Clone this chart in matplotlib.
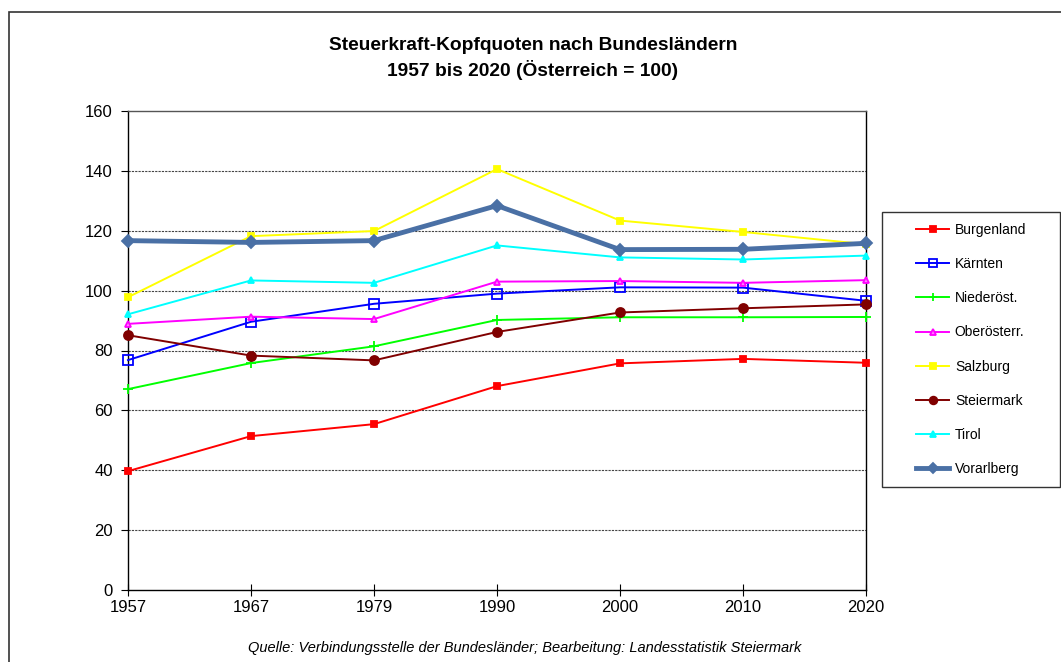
import numpy as np
import matplotlib.pyplot as plt
from matplotlib.patches import Rectangle

plt.rcParams['font.family'] = ['Liberation Sans', 'DejaVu Sans']

# Jahre (kategoriale Achse)
years = ["1957", "1967", "1979", "1990", "2000", "2010", "2020"]

# Steuerkraft-Kopfquoten, Österreich = 100
burgenland = [39.7, 51.4, 55.4, 68.1, 75.7, 77.2, 75.9]
kaernten = [76.8, 89.6, 95.6, 99.0, 101.1, 101.0, 96.6]
niederoest = [67.1, 75.8, 81.4, 90.2, 91.1, 91.1, 91.2]
oberoesterr = [88.9, 91.3, 90.5, 103.0, 103.2, 102.6, 103.5]
salzburg = [97.8, 118.2, 119.9, 140.6, 123.4, 119.6, 115.5]
steiermark = [85.1, 78.3, 76.7, 86.2, 92.7, 94.1, 95.4]
tirol = [92.1, 103.4, 102.6, 115.1, 111.1, 110.4, 111.7]
vorarlberg = [116.7, 116.1, 116.7, 128.4, 113.7, 113.8, 115.8]

W, H = 1061, 662
fig = plt.figure(figsize=(W / 100, H / 100), dpi=100)

# aeusserer Rahmen
fig.patches.append(Rectangle((9 / W, -0.05), 1.1, 1 - 12 / H + 0.05,
                             transform=fig.transFigure, fill=False,
                             edgecolor='#333333', lw=1.2))
# Legendenrahmen
fig.patches.append(Rectangle((882 / W, 1 - 487 / H), 178 / W, 275 / H,
                             transform=fig.transFigure, fill=False,
                             edgecolor='#333333', lw=1.0))

ax = fig.add_axes([128 / W, 1 - 590 / H, (866 - 128) / W, (590 - 111) / H])
x = np.arange(len(years))

# Serien: (Name, Daten, Farbe, Marker, Groesse, Fuellung, Linienbreite)
series = [
    ("Burgenland", burgenland, "#FF0000", "s", 4.5, "#FF0000", 1.4),
    ("Kärnten", kaernten, "#0000FF", "s", 7, "none", 1.4),
    ("Niederöst.", niederoest, "#00FF00", "+", 7, "#00FF00", 1.4),
    ("Oberösterr.", oberoesterr, "#FF00FF", "^", 5, "#FF80FF", 1.4),
    ("Salzburg", salzburg, "#FFFF00", "s", 5, "#FFFF00", 1.4),
    ("Steiermark", steiermark, "#800000", "o", 6.5, "#800000", 1.4),
    ("Tirol", tirol, "#00FFFF", "^", 5, "#00FFFF", 1.4),
    ("Vorarlberg", vorarlberg, "#4A70A5", "D", 6.5, "#4A70A5", 3.5),
]

for name, vals, col, mk, ms, fc, lw in series:
    ax.plot(x, vals, color=col, marker=mk, markersize=ms, markerfacecolor=fc,
            markeredgecolor=col, markeredgewidth=1.3, lw=lw, label=name,
            clip_on=False, zorder=3)

for g in range(20, 160, 20):
    ax.axhline(g, color='#444444', lw=0.8, ls=(0, (2, 1)), zorder=1)

ax.set_xlim(0, 6)
ax.set_ylim(0, 160)
ax.set_yticks(range(0, 161, 20))
ax.set_xticks(x)
ax.set_xticklabels(years)
ax.tick_params(axis='y', direction='out', length=5, labelsize=12, pad=6)
ax.tick_params(axis='x', direction='inout', length=9, labelsize=12, pad=3)
for s in ax.spines.values():
    s.set_color('black')
    s.set_linewidth(1.0)
ax.spines['top'].set_color('#555555')

fig.text(533 / W, 1 - 46 / H, "Steuerkraft-Kopfquoten nach Bundesländern",
         ha='center', va='center', fontsize=13.8, fontweight='bold')
fig.text(533 / W, 1 - 70 / H, "1957 bis 2020 (Österreich = 100)",
         ha='center', va='center', fontsize=13.8, fontweight='bold')

fig.text(525 / W, 1 - 648 / H,
         "Quelle: Verbindungsstelle der Bundesländer; Bearbeitung: Landesstatistik Steiermark",
         ha='center', va='center', fontsize=10.5, style='italic')

leg = fig.legend(loc='center left', bbox_to_anchor=(909 / W, 1 - 349.5 / H),
                 fontsize=10, frameon=False,
                 labelspacing=1.45, handlelength=2.4, handletextpad=0.4,
                 borderpad=0.5, borderaxespad=0)
for h in leg.legend_handles:
    h.set_markersize(min(h.get_markersize(), 5.5))

fig.savefig("out.png", dpi=100)
